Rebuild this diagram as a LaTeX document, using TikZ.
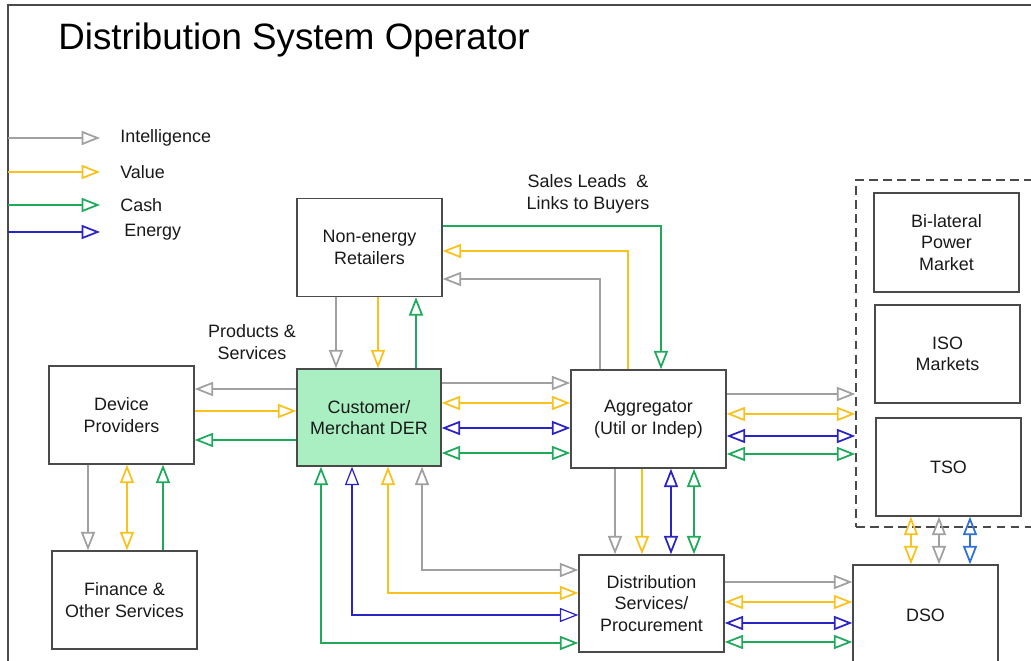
\documentclass[tikz,border=0pt]{standalone}
\usepackage{fontspec}
\setmainfont{Liberation Sans}
\usepackage{xcolor}
\usepackage{tikz}
\usetikzlibrary{arrows.meta,positioning,calc}
\definecolor{intelGray}{HTML}{A0A0A0}
\definecolor{valueYellow}{HTML}{F8C11C}
\definecolor{cashGreen}{HTML}{1FA95B}
\definecolor{energyBlue}{HTML}{2B24C4}
\definecolor{tsoBlue}{HTML}{2E6FD8}
\definecolor{derFill}{HTML}{A9EFC2}
\definecolor{boxGray}{HTML}{4A4A4A}

\begin{document}
\begin{tikzpicture}[
    x=0.02cm,y=-0.02cm,
    >={Triangle[open,length=10.5pt,width=8pt]},
    txt/.style={font=\fontsize{10.2}{12.3}\selectfont,text=black!90},
    box/.style={txt,draw=boxGray,line width=0.8pt,align=center,
                minimum width=2.9cm,minimum height=1.96cm,inner sep=2pt},
    flow/.style={line width=1pt},
    intel/.style={flow,intelGray},
    val/.style={flow,valueYellow},
    cash/.style={flow,cashGreen},
    enrg/.style={flow,energyBlue},
    legendlbl/.style={txt,inner sep=0pt,anchor=west},
    note/.style={txt,align=center,inner sep=0pt}
  ]
  \useasboundingbox (0,0) rectangle (1031,661);
  % frame of the slide
  \draw[boxGray,line width=0.8pt] (8,670) |- (1040,5);
  \node[anchor=base west,font=\fontsize{20.9}{24}\selectfont,inner sep=0pt] (title) at (58,50)
    {Distribution System Operator};

  % legend
  \node[legendlbl] (lgint) at (120,138) {Intelligence};
  \node[legendlbl] (lgval) at (120,172) {Value};
  \node[legendlbl] (lgcash) at (120,205) {Cash};
  \node[legendlbl] (lgen) at (124,232) {Energy};
  \draw[intel,->] (lgint.west -| 8,0) -- ++(92,0);
  \draw[val,->] (lgval.west -| 8,0) -- ++(92,0);
  \draw[cash,->] (lgcash.west -| 8,0) -- ++(92,0);
  \draw[enrg,->] (lgen.west -| 8,0) -- ++(92,0);

  % boxes
  \node[box] (ner) at (369.5,247.5) {Non-energy\\Retailers};
  \node[box,fill=derFill,minimum width=2.88cm,minimum height=1.94cm] (der) at (369,417.5) {Customer/\\Merchant DER};
  \node[box] (dev) at (121.5,415) {Device\\Providers};
  \node[box] (fin) at (124.5,600) {Finance \&\\Other Services};
  \node[box,minimum width=3.1cm] (agg) at (648.5,419) {Aggregator\\(Util or Indep)};
  \node[box,minimum height=1.94cm] (dsp) at (651.5,603.5) {Distribution\\Services/\\Procurement};
  \node[box,minimum height=1.98cm] (bil) at (946.5,242.5) {Bi-lateral\\Power\\Market};
  \node[box] (iso) at (947.5,354) {ISO\\Markets};
  \node[box] (tso) at (948.5,467) {TSO};
  \node[box,minimum height=2cm] (dso) at (925.5,615) {DSO};
  % wholesale side, runs off the slide
  \node[draw=boxGray,line width=0.8pt,dash pattern=on 5pt off 3pt,
        minimum width=3.78cm,minimum height=6.94cm] (whs) at (950.5,353.5) {};

  % notes
  \node[note] (sales) at (588,194) {Sales Leads\ \ \&\\Links to Buyers};
  \node[note] (prod) at (252,342) {Products \&\\Services};

  % retailers and customer
  \draw[intel,->] (ner.south -| 336,0) -- (der.north -| 336,0);
  \draw[val,->] (ner.south -| 378,0) -- (der.north -| 378,0);
  \draw[cash,->] (der.north -| 416,0) -- (ner.south -| 416,0);

  % aggregator and retailers
  \draw[cash,->] (ner.east |- 0,226) -| (agg.north -| 661,0);
  \draw[val,->] (agg.north -| 628,0) |- (ner.east |- 0,251);
  \draw[intel,->] (agg.north -| 600,0) |- (ner.east |- 0,279);

  % customer and aggregator
  \draw[intel,->] (der.east |- 0,383) -- (agg.west |- 0,383);
  \draw[val,<->] (der.east |- 0,403) -- (agg.west |- 0,403);
  \draw[enrg,<->] (der.east |- 0,428) -- (agg.west |- 0,428);
  \draw[cash,<->] (der.east |- 0,453) -- (agg.west |- 0,453);

  % customer and device providers
  \draw[intel,->] (der.west |- 0,389) -- (dev.east |- 0,389);
  \draw[val,->] (dev.east |- 0,411) -- (der.west |- 0,411);
  \draw[cash,->] (der.west |- 0,440) -- (dev.east |- 0,440);

  % device providers and finance
  \draw[intel,->] (dev.south -| 88,0) -- (fin.north -| 88,0);
  \draw[val,<->] (dev.south -| 127,0) -- (fin.north -| 127,0);
  \draw[cash,->] (fin.north -| 163,0) -- (dev.south -| 163,0);

  % aggregator and distribution services
  \draw[intel,->] (agg.south -| 615,0) -- (dsp.north -| 615,0);
  \draw[val,->] (agg.south -| 642,0) -- (dsp.north -| 642,0);
  \draw[enrg,<->] (agg.south -| 671,0) -- (dsp.north -| 671,0);
  \draw[cash,<->] (agg.south -| 694,0) -- (dsp.north -| 694,0);

  % customer and distribution services
  \draw[cash,<->] (der.south -| 321,0) |- (dsp.west |- 0,643);
  \draw[enrg,line width=0.7pt,<->] (der.south -| 352,0) |- (dsp.west |- 0,615);
  \draw[val,<->] (der.south -| 388,0) |- (dsp.west |- 0,593);
  \draw[intel,<->] (der.south -| 422,0) |- (dsp.west |- 0,570);

  % aggregator and wholesale markets
  \draw[intel,->] (agg.east |- 0,394) -- (whs.west |- 0,394);
  \draw[val,<->] (agg.east |- 0,414) -- (whs.west |- 0,414);
  \draw[enrg,<->] (agg.east |- 0,436) -- (whs.west |- 0,436);
  \draw[cash,<->] (agg.east |- 0,454) -- (whs.west |- 0,454);

  % distribution services and DSO
  \draw[intel,->] (dsp.east |- 0,582) -- (dso.west |- 0,582);
  \draw[val,<->] (dsp.east |- 0,602) -- (dso.west |- 0,602);
  \draw[enrg,<->] (dsp.east |- 0,623) -- (dso.west |- 0,623);
  \draw[cash,<->] (dsp.east |- 0,642) -- (dso.west |- 0,642);

  % TSO and DSO
  \draw[val,<->] (tso.south -| 911,0) -- (dso.north -| 911,0);
  \draw[intel,<->] (tso.south -| 939,0) -- (dso.north -| 939,0);
  \draw[flow,tsoBlue,<->] (tso.south -| 970,0) -- (dso.north -| 970,0);
\end{tikzpicture}
\end{document}
